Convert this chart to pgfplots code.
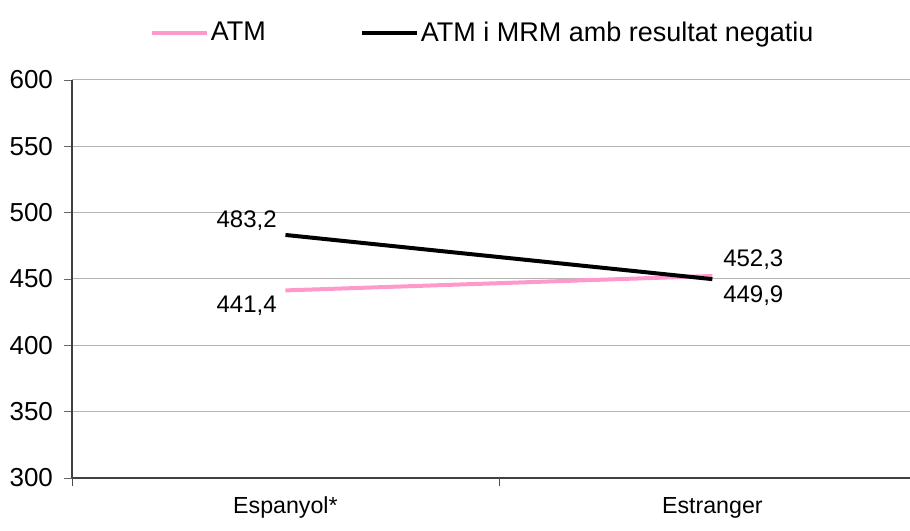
\documentclass[border=0pt]{standalone}
\usepackage{pgfplots}
\pgfplotsset{compat=1.18}
\usepackage{fontspec}
\setmainfont{Liberation Sans}
\definecolor{atmpink}{RGB}{255,153,204}
\definecolor{gridgrey}{RGB}{180,180,180}
\begin{document}
\begin{tikzpicture}
\path[use as bounding box] (0,0) rectangle (455pt,265pt);
\begin{axis}[
  at={(36pt,26pt)}, anchor=south west,
  scale only axis, width=419pt, height=199pt,
  xmin=0, xmax=1.963, ymin=300, ymax=600,
  axis lines=left, axis line style={-, draw=black!75, line width=0.6pt},
  ytick={300,350,...,600},
  ymajorgrids, grid style={gridgrey, line width=0.5pt},
  y tick label style={font=\fontsize{13}{15}\selectfont, xshift=-2pt},
  /pgf/number format/assume math mode=true,
  ytick style={draw=black!60},
  major tick length=4pt, tick align=outside,
  xtick={0.5,1.5}, xticklabels={Espanyol*, Estranger},
  x tick label style={font=\fontsize{11.6}{13}\selectfont, yshift=-2pt},
  x tick style={draw=none},
  extra x ticks={0,1}, extra x tick labels={},
  extra x tick style={x tick style={draw=black!70}, major tick length=4pt, tick align=outside},
  legend style={at={(0.49,1.118)}, anchor=center, draw=none, fill=none,
    legend columns=2, font=\fontsize{13.5}{15}\selectfont,
    nodes={inner sep=1pt},
    /tikz/every even column/.append style={column sep=46pt}},
  legend image code/.code={\draw[#1] (0pt,0pt) -- (27.5pt,0pt);},
  clip=false,
]
\addplot[atmpink, line width=2pt] coordinates {(0.5,441.4) (1.5,452.3)};
\addlegendentry{ATM}
\addplot[black, line width=2pt] coordinates {(0.5,483.2) (1.5,449.9)};
\addlegendentry{ATM i MRM amb resultat negatiu}
\begin{scope}[font=\fontsize{12}{14}\selectfont]
\node[anchor=south east, inner sep=1pt] at (axis cs:0.485,485) {483,2};
\node[anchor=north east, inner sep=1pt] at (axis cs:0.485,439) {441,4};
\node[anchor=south west, inner sep=1pt] at (axis cs:1.52,455) {452,3};
\node[anchor=north west, inner sep=1pt] at (axis cs:1.52,447) {449,9};
\end{scope}
\end{axis}
\end{tikzpicture}
\end{document}
